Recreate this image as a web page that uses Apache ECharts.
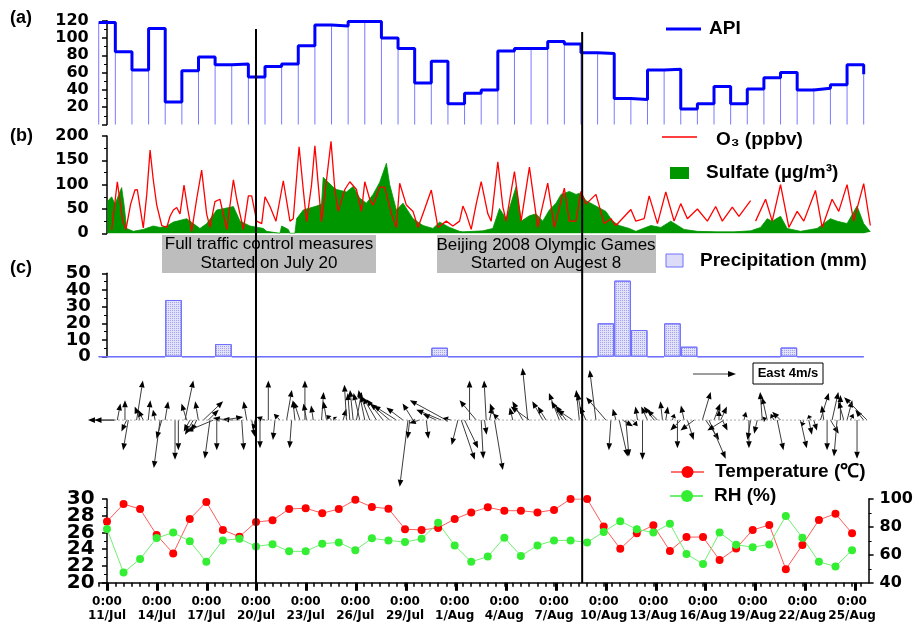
<!DOCTYPE html>
<html>
<head>
<meta charset="utf-8">
<script src="https://cdn.jsdelivr.net/npm/echarts@6/dist/echarts.min.js"></script>
<style>
html, body { margin: 0; padding: 0; background: #fff; }
#chart { width: 916px; height: 627px; }
</style>
</head>
<body>
<div id="chart"></div>
<script>
// time is counted in days from 11 Jul 2008 0:00
var dayLabels = ['11/Jul', '14/Jul', '17/Jul', '20/Jul', '23/Jul', '26/Jul', '29/Jul', '1/Aug',
  '4/Aug', '7/Aug', '10/Aug', '13/Aug', '16/Aug', '19/Aug', '22/Aug', '25/Aug']

// daily API, 11 Jul .. 25 Aug, then the closing value
var apiValues = [118, 84, 63, 111, 26, 62, 78, 69, 70, 55, 67, 70, 91, 115, 114, 119, 119, 100, 88, 48, 73, 24,
  36, 40, 85, 88, 88, 96, 93, 83, 82, 30, 29, 63, 64, 18, 24, 44, 24, 41, 54, 60, 40, 42, 46, 69]
var apiLast = 58

// [day, ppbv]
var o3 = [[0.28, 7], [0.62, 106], [0.94, 27], [1.14, 8], [1.42, 60], [1.68, 89], [1.82, 90], [1.98, 55], [2.18, 11],
  [2.39, 80], [2.59, 171], [2.78, 110], [2.99, 58], [3.29, 16], [3.59, 12], [3.79, 35], [3.99, 48], [4.19, 53],
  [4.39, 40], [4.63, 99], [4.83, 55], [5.09, 4], [5.39, 70], [5.69, 130], [5.99, 40], [6.19, 12], [6.49, 65],
  [6.79, 70], [7.2, 8], [7.6, 110], [7.8, 70], [8.2, 8], [8.5, 77], [8.7, 77], [9.0, 25], [9.3, 20], [9.5, 75],
  [9.8, 55], [10.16, 25], [10.4, 70], [10.6, 108], [11.0, 25], [11.2, 30], [11.55, 178], [11.8, 90], [12.0, 24],
  [12.3, 100], [12.5, 180], [12.7, 100], [12.9, 24], [13.2, 110], [13.47, 189], [13.7, 90], [13.9, 45],
  [14.3, 90], [14.6, 106], [15.0, 90], [15.3, 45], [15.5, 106], [15.8, 70], [16.0, 58], [16.4, 95], [16.7, 95],
  [17.1, 40], [17.4, 12], [17.6, 103], [18.0, 58], [18.4, 45], [18.7, 12], [19.1, 50], [19.5, 89], [19.9, 12],
  [20.4, 25], [20.8, 15], [21.2, 25], [21.4, 56], [21.6, 40], [21.9, 8], [22.2, 60], [22.5, 106], [22.9, 40],
  [23.1, 25], [23.5, 147], [23.8, 55], [24.0, 25], [24.5, 127], [24.9, 25], [25.4, 136], [25.9, 12], [26.5, 103],
  [26.9, 12], [27.5, 93], [27.8, 25], [28.2, 25], [28.5, 86], [28.8, 60], [29.4, 80], [29.9, 20], [30.3, 30],
  [30.6, 16], [31.5, 49], [31.8, 25], [32.3, 30], [32.6, 77], [33.1, 20], [33.6, 85], [34.1, 25], [34.5, 61],
  [34.9, 30], [35.5, 50], [36.1, 25], [36.6, 55], [37.0, 25], [37.6, 54], [38.0, 35], [38.7, 67], [38.8, '-'],
  [39.0, 25], [39.6, 70], [40.0, 25], [40.5, 100], [41.0, 12], [41.5, 45], [41.9, 25], [42.6, 88], [43.0, 12],
  [43.6, 70], [44.0, 45], [44.5, 100], [44.9, 25], [45.5, 102], [45.9, 16]]

// [day, ug/m3]
var sulfate = [[0.02, 65], [0.28, 75], [0.48, 60], [0.88, 94], [1.02, 60], [1.18, 10], [1.58, 4], [2.18, 8],
  [2.78, 15], [3.19, 12], [3.59, 15], [3.99, 23], [4.79, 30], [5.19, 20], [5.59, 10], [6.0, 20], [6.6, 48],
  [7.2, 52], [7.6, 55], [8.0, 25], [8.6, 15], [9.4, 10], [9.6, 4], [9.7, 0], [10.4, 0], [10.5, 15], [10.9, 8],
  [11.0, 0], [11.3, 0], [11.4, 30], [11.8, 48], [12.2, 52], [12.6, 56], [12.9, 60], [13.0, 115], [13.3, 105],
  [13.6, 95], [13.8, 90], [14.4, 85], [14.8, 96], [15.2, 72], [15.6, 62], [16.0, 80], [16.4, 105], [16.8, 144],
  [17.0, 100], [17.4, 48], [17.8, 62], [18.4, 30], [19.0, 16], [19.6, 10], [20.0, 23], [20.6, 12], [21.2, 4],
  [21.4, 3], [22.6, 5], [23.2, 10], [23.6, 51], [24.0, 30], [24.6, 96], [24.9, 25], [25.4, 36], [25.8, 40],
  [26.2, 25], [26.6, 48], [27.0, 62], [27.3, 80], [27.8, 86], [28.2, 80], [28.5, 83], [28.8, 67], [29.4, 56],
  [30.0, 45], [30.4, 25], [30.8, 16], [31.4, 10], [31.8, 4], [32.7, 16], [33.3, 12], [33.9, 25], [34.7, 8],
  [35.5, 4], [36.7, 3], [37.7, 3], [38.7, 5], [39.3, 12], [39.7, 30], [40.0, 25], [40.5, 35], [40.9, 10],
  [41.7, 4], [42.7, 10], [43.5, 30], [43.9, 25], [44.5, 20], [45.1, 56], [45.5, 20], [45.9, 3]]

// daily precipitation (mm)
var precip = [0, 0, 0, 0, 34, 0, 0, 7.6, 0, 0, 0, 0, 0, 0, 0, 0, 0, 0, 0, 0, 5.4, 0, 0, 0, 0, 0, 0, 0, 0, 0,
  20, 45.6, 16, 0, 20, 6, 0, 0, 0, 0, 0, 5.5, 0, 0, 0, 0]

// wind vectors: time (day), east and north components (m/s)
var windTime = [0.42, 0.5, 0.62, 1.08, 1.18, 1.28, 1.78, 1.98, 2.18, 2.48, 2.89, 3.19, 3.29, 3.49, 4.09, 4.29,
  4.69, 4.79, 4.99, 5.19, 5.39, 5.49, 5.79, 6.09, 6.19, 6.39, 6.6, 7.0, 7.3, 7.6, 8.1, 8.4, 8.7, 8.9, 9.2, 9.5,
  9.7, 10.1, 10.4, 10.8, 11.1, 11.3, 11.6, 11.9, 12.0, 12.4, 12.9, 13.2, 13.5, 13.8, 14.2, 14.4, 14.6, 14.8,
  15.0, 15.2, 15.5, 15.8, 16.2, 16.6, 17.0, 17.4, 17.8, 18.1, 18.2, 18.4, 18.8, 19.2, 19.8, 20.1, 20.4, 20.7,
  21.1, 21.3, 21.5, 21.8, 22.2, 22.5, 22.7, 22.8, 23.0, 23.3, 23.4, 23.6, 24.4, 25.0, 25.3, 25.4, 26.2, 26.4,
  27.2, 27.4, 27.6, 28.0, 28.4, 28.6, 28.8, 29.4, 30.0, 30.3, 30.6, 30.8, 31.0, 31.2, 31.6, 31.9, 32.2, 32.5,
  32.9, 33.1, 33.4, 33.6, 34.0, 34.3, 34.5, 34.7, 34.9, 35.3, 35.8, 36.0, 36.2, 36.5, 36.8, 36.9, 37.0, 37.1,
  38.3, 38.6, 38.7, 39.1, 39.3, 39.4, 39.7, 40.1, 40.3, 40.5, 41.7, 41.9, 42.2, 42.3, 42.5, 42.9, 43.1, 43.3,
  43.5, 43.6, 43.9, 44.1, 44.3, 44.5, 44.7, 45.1, 45.5, 45.7]
var windU = [-2.5, -2.0, 0.3, 0, -0.5, -0.5, 0.6, -0.5, -0.5, 0.2, -0.2, -0.6, -0.5, 0.3, 0, 0,
  0.8, -0.5, -0.6, -0.8, -0.5, -0.3, 1.9, 1.0, -0.5, -2.6, 0, 1.9, -1.5, -1.0, 0.2, -0.3, 0.3, -0.2, 0, -0.8,
  0, -0.2, -0.6, 0.5, -0.2, -0.2, -0.6, 0, -0.3, -0.2, 0.2, -0.3, -0.5, -0.3, 0.3, -0.2, -0.2, -0.3,
  0.5, -0.6, -0.6, -0.9, -1.3, -1.6, -1.9, -2.2, -1.6, -0.8, -0.2, -1.0, -1.0, 0.2, -1.3, -2.4, -3.5, -0.8,
  -0.6, 1.3, 1.3, 0, -1.6, 0.2, 0.2, -0.2, 0.3, 0.8, -0.6, -0.6, -0.3, -1.0, -0.5, -1.8, -1.0, -0.8,
  -1.0, -1.1, -1.0, -1.5, -0.3, -0.5, -0.6, -0.6, -1.9, -0.2, -0.3, 0.8, 1.0, 0.3, 0.5, -0.2, 0, -0.6,
  -1.0, -1.0, -0.2, 0.2, 0.2, 0, -1.0, -0.3, 0.6, -1.3, 0.8, 1.3, 1.6, 0.6, 0, 0.6, 0.5, -1.6,
  0.2, 0, -0.3, -0.3, 0.6, -0.2, -0.5, -0.3, 0.6, -0.8, 0.6, -0.2, 0.3, -0.2, 0.3, 0.8, -0.2, 0,
  0.8, 0.6, -0.3, 0, -0.5, 0.5, 0.3, 0, -0.8, -2.2]
var windV = [0, 0, 1.6, 1.9, -1.1, -2.9, 3.8, 1.3, 1.0, 1.9, 1.0, -4.6, -1.8, 1.8, -3.8, -2.9,
  3.8, 1.6, -1.1, -1.4, -1.1, 1.8, 1.8, 1.0, -3.7, -1.1, -2.9, 0.3, 0.2, 0.1, -2.9, 1.8, -1.6, -1.0, -2.7, 0.3,
  3.8, -1.9, 0.6, 2.9, -2.7, 1.9, 1.8, 3.8, 1.6, 1.4, 2.7, 1.8, 0.5, 0.3, 1.1, 3.4, 2.6, 2.9,
  2.7, 2.6, 2.9, 2.4, 2.2, 2.0, 1.6, 1.4, 1.2, -6.4, -1.8, 1.6, -0.3, -1.8, 0.6, 1.0, 1.9, 0.2,
  -2.4, -3.8, -2.7, 3.8, 1.9, -3.7, -1.4, 3.8, 1.3, -4.8, 1.6, 0.6, 1.2, 1.8, 5.0, 1.3, 1.8, 1.3,
  2.6, 1.8, 1.4, 1.0, 2.9, 2.6, 1.3, 4.8, 2.2, -2.9, 1.1, -3.5, -0.6, -3.5, -0.6, 1.3, -3.8, 1.3,
  1.3, 1.0, 1.8, 1.3, 0.6, -2.7, -1.0, 1.4, -1.9, -1.0, 2.7, -1.9, -3.7, 1.6, 1.0, 1.3, -1.0, -1.0,
  0.8, -2.7, -1.9, -1.3, 0.2, 2.7, 2.2, 0.6, -2.9, 0.8, -2.7, -0.6, -1.4, 0.5, -1.0, 2.6, 1.4, -2.9,
  -1.3, 2.7, -3.5, 2.4, 1.8, 1.9, 0.6, -3.7, 1.0, 2.2]

// daily at 0:00
var temperature = [27.3, 29.4, 28.8, 25.7, 23.5, 27.6, 29.65, 26.3, 25.5, 27.25, 27.45, 28.8, 28.9, 28.3, 28.8,
  29.9, 29.05, 28.85, 26.4, 26.3, 26.55, 27.6, 28.4, 29.0, 28.6, 28.6, 28.4, 28.7, 30.0, 30.0, 26.7, 24.05, 25.9,
  26.85, 23.8, 25.45, 25.45, 22.7, 24.1, 26.3, 26.9, 21.6, 24.5, 27.5, 28.25, 25.9]
var rh = [78.5, 47.3, 57, 72, 75.9, 69.8, 55, 70.3, 71.5, 66, 67.6, 62.5, 62.5, 67.9, 68.9, 63.3, 71.8, 70.3,
  69.1, 71.5, 82.9, 66.7, 55, 58.7, 72.3, 59.2, 66.7, 70.3, 70.3, 68.9, 76.4, 84.1, 78.3, 75.9, 82.2, 60.6,
  53.4, 75.9, 67.2, 65.5, 67.4, 87.8, 72.3, 55, 51.6, 63.3]

// tick labels of the two crowded axes
var precipTicks = [0, 10, 20, 30, 40, 50]
var tempTicks = [20, 22, 24, 26, 28, 30]

var trafficDay = 9      // 20 Jul 0:00
var olympicDay = 28.7   // evening of 8 Aug

var AXF = 'DejaVu Sans'
var TXF = '"Liberation Sans", Arial, sans-serif'

var apiStep = apiValues.map(function (v, i) { return [i - 0.5, v] })
apiStep.push([apiValues.length - 0.5, apiLast])

var halfDays = []
for (var h = -0.5; h <= 45.5; h += 0.5) halfDays.push(h)
var labelDays = dayLabels.map(function (d, i) { return i * 3 })

function gridBox(top, height) {
  return { left: 98.7, right: 44, top: top, height: height }
}

function hiddenX(grid) {
  return { gridIndex: grid, type: 'value', min: -0.5, max: 46, show: false }
}

function yAxisOf(grid, min, max, interval, fontSize, margin, pos, skipMin, noLabel) {
  var ticks = []
  for (var t = skipMin ? min + interval : min; t <= max + 1e-9; t += interval) ticks.push(t)
  return {
    gridIndex: grid, type: 'value', min: min, max: max, interval: interval, position: pos || 'left',
    axisLine: { show: true, lineStyle: { color: '#000', width: 1.5 } },
    axisTick: { show: true, length: 5, lineStyle: { color: '#000', width: 1.5 } },
    minorTick: { show: true, splitNumber: 2, length: 3, lineStyle: { color: '#000', width: 1 } },
    splitLine: { show: false },
    axisLabel: {
      show: !noLabel, customValues: ticks,
      color: '#000', fontFamily: AXF, fontWeight: 'bold', fontSize: fontSize, margin: margin
    }
  }
}

function renderArrow(params, api) {
  var p0 = api.coord([api.value(0), 0])
  var unit = Math.abs(api.size([0, 1])[1])
  var dx = api.value(1) * unit
  var dy = -api.value(2) * unit
  var len = Math.sqrt(dx * dx + dy * dy)
  if (len < 1) return
  var ux = dx / len, uy = dy / len
  var tip = [p0[0] + dx, p0[1] + dy]
  var hl = Math.min(7, len * 0.6), hw = 2.8
  var base = [tip[0] - ux * hl, tip[1] - uy * hl]
  return {
    type: 'group',
    children: [
      { type: 'line', shape: { x1: p0[0], y1: p0[1], x2: base[0], y2: base[1] },
        style: { stroke: '#3c3c3c', lineWidth: 1 } },
      { type: 'polygon', shape: { points: [tip, [base[0] - uy * hw, base[1] + ux * hw], [base[0] + uy * hw, base[1] - ux * hw]] },
        style: { fill: '#000' } }
    ]
  }
}

var chart = echarts.init(document.getElementById('chart'), null, { renderer: 'canvas' })

var option = {
  animation: false,
  backgroundColor: '#fff',
  grid: [
    gridBox(20.7, 103.8),
    gridBox(136, 97.3),
    gridBox(273.3, 83.4),
    gridBox(368, 125),
    gridBox(499, 83.7),
    gridBox(499, 83.7)
  ],
  xAxis: [
    hiddenX(0), hiddenX(1), hiddenX(2), hiddenX(3),
    {
      gridIndex: 4, type: 'value', min: -0.5, max: 46,
      axisLine: { lineStyle: { color: '#000', width: 1.5 } },
      axisTick: { customValues: halfDays, length: 4, lineStyle: { color: '#000', width: 1.5 } },
      splitLine: { show: false },
      axisLabel: {
        customValues: labelDays, color: '#000', fontFamily: AXF, fontWeight: 'bold', fontSize: 12,
        lineHeight: 14, margin: 12,
        formatter: function (v) { return '0:00\n' + dayLabels[Math.round(v / 3)] }
      }
    },
    {
      gridIndex: 5, type: 'value', min: -0.5, max: 46,
      axisLine: { show: false },
      axisTick: { customValues: labelDays, length: 8, lineStyle: { color: '#000', width: 3 } },
      axisLabel: { show: false },
      splitLine: { show: false }
    }
  ],
  yAxis: [
    yAxisOf(0, 0, 120, 20, 16, 10, 'left', true),
    yAxisOf(1, 0, 200, 50, 16, 10),
    yAxisOf(2, 0, 50, 10, 18, 8, 'left', false, true),
    { gridIndex: 3, type: 'value', min: -7, max: 5, show: false },
    yAxisOf(4, 20, 30, 2, 20, 4, 'left', false, true),
    yAxisOf(4, 40, 100, 20, 16, 11, 'right'),
    { gridIndex: 5, type: 'value', min: 0, max: 1, show: false }
  ],
  series: [
    {
      type: 'bar', xAxisIndex: 0, yAxisIndex: 0, data: apiStep, barWidth: 1,
      itemStyle: { color: '#7a7aff' }, silent: true
    },
    {
      type: 'line', xAxisIndex: 0, yAxisIndex: 0, data: apiStep, step: 'end', showSymbol: false,
      lineStyle: { color: '#0000ff', width: 3 }, silent: true
    },
    {
      type: 'line', xAxisIndex: 1, yAxisIndex: 1, data: sulfate, showSymbol: false,
      lineStyle: { color: '#009600', width: 0.8 }, areaStyle: { color: '#009600', opacity: 1 }, silent: true
    },
    {
      type: 'line', xAxisIndex: 1, yAxisIndex: 1, data: o3, showSymbol: false,
      lineStyle: { color: '#ff0000', width: 1.3 }, silent: true
    },
    {
      type: 'bar', xAxisIndex: 2, yAxisIndex: 2, barWidth: 16.6,
      data: precip.map(function (v, i) { return [i, v] }),
      itemStyle: {
        color: '#e2e2fb', borderColor: '#7070ff', borderWidth: 1,
        decal: { symbol: 'rect', symbolSize: 1, dashArrayX: [1, 1], dashArrayY: [1, 1], color: 'rgba(110,110,230,0.55)' }
      },
      silent: true
    },
    {
      type: 'line', xAxisIndex: 3, yAxisIndex: 3, showSymbol: false, silent: true,
      data: [[windTime[0], 0], [windTime[windTime.length - 1], 0]],
      lineStyle: { color: '#aaa', width: 1, type: [2, 2] }
    },
    {
      type: 'custom', xAxisIndex: 3, yAxisIndex: 3, renderItem: renderArrow, clip: false, silent: true,
      encode: { x: 0, y: 2 },
      data: windTime.map(function (t, i) { return [t, windU[i], windV[i]] })
    },
    {
      type: 'line', xAxisIndex: 4, yAxisIndex: 4, symbol: 'circle', symbolSize: 8,
      data: temperature.map(function (v, i) { return [i, v] }),
      itemStyle: { color: '#ff0000' }, lineStyle: { color: '#ff5a5a', width: 1 }, silent: true
    },
    {
      type: 'line', xAxisIndex: 4, yAxisIndex: 5, symbol: 'circle', symbolSize: 8,
      data: rh.map(function (v, i) { return [i, v] }),
      itemStyle: { color: '#33ee33' }, lineStyle: { color: '#70f070', width: 1 }, silent: true
    }
  ]
}

chart.setOption(option)

var xTraffic = chart.convertToPixel({ xAxisIndex: 4 }, trafficDay)
var xOlympic = chart.convertToPixel({ xAxisIndex: 4 }, olympicDay)
var axisX = chart.convertToPixel({ xAxisIndex: 4 }, -0.5)

function label(x, y, text, font, align) {
  return { type: 'text', x: x, y: y, z: 10,
    style: { text: text, font: font, fill: '#000', align: align || 'left', verticalAlign: 'middle' } }
}

var boldText = 'bold 19px ' + TXF
var boxText = '17px ' + TXF

var tickTexts = []
precipTicks.forEach(function (v) {
  tickTexts.push(label(axisX - 8, chart.convertToPixel({ yAxisIndex: 2 }, v), String(v), 'bold 18px ' + AXF, 'right'))
})
tempTicks.forEach(function (v) {
  tickTexts.push(label(axisX - 4, chart.convertToPixel({ yAxisIndex: 4 }, v), String(v), 'bold 20px ' + AXF, 'right'))
})

chart.setOption({
  graphic: tickTexts.concat([
    label(10, 18, '(a)', 'bold 18px ' + TXF),
    label(10, 136, '(b)', 'bold 18px ' + TXF),
    label(10, 268, '(c)', 'bold 18px ' + TXF),

    { type: 'line', z: 10, shape: { x1: 666, y1: 29, x2: 701, y2: 29 }, style: { stroke: '#0000ff', lineWidth: 3 } },
    label(709, 29, 'API', boldText),

    { type: 'line', z: 10, shape: { x1: 662, y1: 137, x2: 697, y2: 137 }, style: { stroke: '#ff0000', lineWidth: 1.5 } },
    label(716, 140, 'O\u2083 (ppbv)', boldText),
    { type: 'rect', z: 10, shape: { x: 670, y: 167, width: 19, height: 12 }, style: { fill: '#009600' } },
    label(706, 173, 'Sulfate (\u00b5g/m\u00b3)', boldText),

    { type: 'rect', z: 10, shape: { x: 162, y: 235, width: 214, height: 38 }, style: { fill: '#bdbdbd' } },
    label(269, 244, 'Full traffic control measures', boxText, 'center'),
    label(269, 263, 'Started on July 20', boxText, 'center'),
    { type: 'rect', z: 10, shape: { x: 437, y: 235, width: 219, height: 38 }, style: { fill: '#bdbdbd' } },
    label(546, 245, 'Beijing 2008 Olympic Games', boxText, 'center'),
    label(546, 263, 'Started on Augest 8', boxText, 'center'),

    { type: 'rect', z: 10, shape: { x: 666, y: 254, width: 17, height: 13 },
      style: { fill: '#dcdcf8', stroke: '#7070ff', lineWidth: 1 } },
    label(700, 261, 'Precipitation (mm)', boldText),

    { type: 'line', z: 10, shape: { x1: 693, y1: 374, x2: 729, y2: 374 }, style: { stroke: '#3c3c3c', lineWidth: 1 } },
    { type: 'polygon', z: 10, shape: { points: [[736, 374], [728, 371], [728, 377]] }, style: { fill: '#000' } },
    { type: 'rect', z: 10, shape: { x: 753, y: 363, width: 70, height: 21 }, style: { fill: '#fff', stroke: '#000', lineWidth: 1 } },
    label(788, 373.5, 'East 4m/s', 'bold 13px ' + TXF, 'center'),

    { type: 'line', z: 10, shape: { x1: 671, y1: 472, x2: 704, y2: 472 }, style: { stroke: '#ff7070', lineWidth: 2 } },
    { type: 'circle', z: 11, shape: { cx: 687.5, cy: 472, r: 6 }, style: { fill: '#ff0000' } },
    label(715, 472, 'Temperature (\u2103)', boldText),
    { type: 'line', z: 10, shape: { x1: 670, y1: 496, x2: 703, y2: 496 }, style: { stroke: '#70f070', lineWidth: 2 } },
    { type: 'circle', z: 11, shape: { cx: 687, cy: 496, r: 6 }, style: { fill: '#33ee33' } },
    label(714, 496, 'RH (%)', boldText),

    { type: 'line', z: 20, shape: { x1: xTraffic, y1: 29, x2: xTraffic, y2: 583 }, style: { stroke: '#000', lineWidth: 2 } },
    { type: 'line', z: 20, shape: { x1: xOlympic, y1: 32, x2: xOlympic, y2: 583 }, style: { stroke: '#000', lineWidth: 2 } }
  ])
})
</script>
</body>
</html>
